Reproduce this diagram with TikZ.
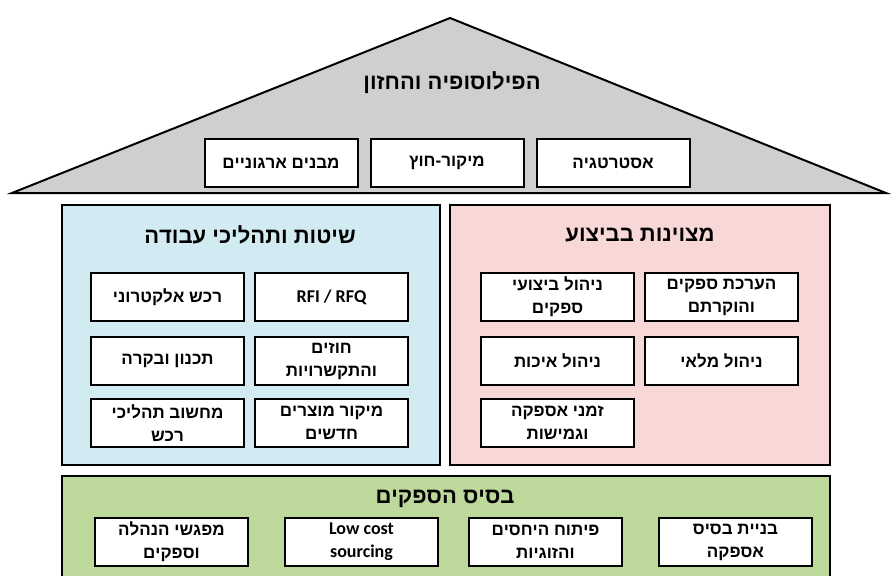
\documentclass[tikz,border=0pt]{standalone}
\usepackage{fontspec}
\setmainfont{Liberation Sans}
\newfontfamily\latinfont{Carlito}
\TeXXeTstate=1
\usetikzlibrary{positioning}
\definecolor{roofgray}{HTML}{CFCFCF}
\definecolor{methodblue}{HTML}{D2EBF3}
\definecolor{excelpink}{HTML}{F8D8D6}
\definecolor{basegreen}{HTML}{BCD89B}
\newcommand{\heb}[1]{\beginR #1\endR}
\newcommand{\lat}{\latinfont\bfseries\fontsize{18}{23}\selectfont}
\tikzstyle{panel}   = [rectangle, draw=black, line width=2pt, anchor=north west,
                       inner sep=0pt]
\tikzstyle{item}    = [rectangle, draw=black, line width=2pt, fill=white,
                       minimum width=153pt, minimum height=48pt, align=center,
                       inner sep=0pt, font=\fontsize{17}{23}\selectfont\bfseries]
\tikzstyle{heading} = [font=\fontsize{22}{24}\selectfont\bfseries]

\begin{document}
\begin{tikzpicture}[x=1pt, y=-1pt]
  \useasboundingbox (0,0) rectangle (895,576);

  %% Roof
  \draw[fill=roofgray, line width=2pt] (12,193) -- (450,18) -- (886,193) -- cycle;
  \node[heading] (vision) at (452,83) {\heb{הפילוסופיה והחזון}};
  \node[item] (outsrc) at (447,163) {\heb{מיקור-חוץ}};
  \node[item, right=11pt of outsrc] (strategy) {\heb{אסטרטגיה}};
  \node[item, left=11pt of outsrc] (orgs) {\heb{מבנים ארגוניים}};

  %% Methods panel
  \node[panel, fill=methodblue, minimum width=378pt, minimum height=260pt]
        (methods) at (61,204) {};
  \node[heading] (methodstitle) at (250,235) {\heb{שיטות ותהליכי עבודה}};
  \node[item] (rfq) at (331.5,297) {\lat RFI / RFQ};
  \node[item, left=9pt of rfq] (eproc) {\heb{רכש אלקטרוני}};
  \node[item, below=14pt of rfq] (contracts) {\heb{חוזים}\\\heb{והתקשרויות}};
  \node[item, left=9pt of contracts] (planning) {\heb{תכנון ובקרה}};
  \node[item, below=12pt of contracts] (newprod) {\heb{מיקור מוצרים}\\\heb{חדשים}};
  \node[item, left=9pt of newprod] (digital) {\heb{מחשוב תהליכי}\\\heb{רכש}};

  %% Excellence panel
  \node[panel, fill=excelpink, minimum width=380pt, minimum height=260pt]
        (excel) at (449,204) {};
  \node[heading] (exceltitle) at (640,235) {\heb{מצוינות בביצוע}};
  \node[item] (rating) at (721.5,297) {\heb{הערכת ספקים}\\\heb{והוקרתם}};
  \node[item, left=9pt of rating] (perform) {\heb{ניהול ביצועי}\\\heb{ספקים}};
  \node[item, below=14pt of rating] (stock) {\heb{ניהול מלאי}};
  \node[item, left=9pt of stock] (quality) {\heb{ניהול איכות}};
  \node[item, below=12pt of quality] (leadtime) {\heb{זמני אספקה}\\\heb{וגמישות}};

  %% Supplier base
  \node[panel, fill=basegreen, minimum width=768pt, minimum height=130pt]
        (base) at (61,475) {};
  \node[heading] (basetitle) at (445,499) {\heb{בסיס הספקים}};
  \node[item] (build) at (735.5,542) {\heb{בניית בסיס}\\\heb{אספקה}};
  \node[item, left=35pt of build] (relations) {\heb{פיתוח היחסים}\\\heb{והזוגיות}};
  \node[item, left=29pt of relations] (lowcost) {\lat Low cost\\\lat sourcing};
  \node[item, left=35pt of lowcost] (meetings) {\heb{מפגשי הנהלה}\\\heb{וספקים}};

\end{tikzpicture}
\end{document}
